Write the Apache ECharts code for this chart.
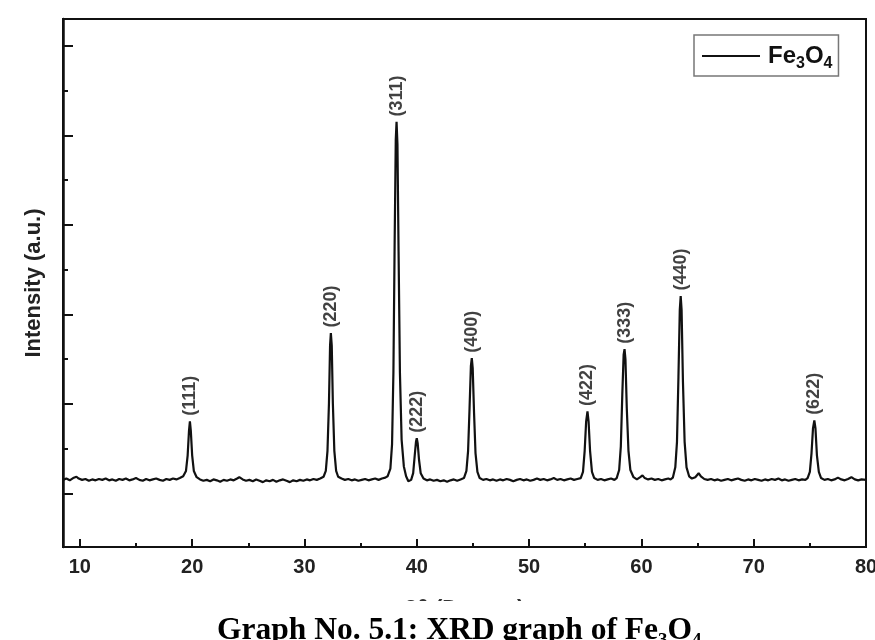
<!DOCTYPE html>
<html>
<head>
<meta charset="utf-8">
<script src="https://cdn.jsdelivr.net/npm/echarts@6/dist/echarts.min.js"></script>
<style>
  html, body { margin: 0; padding: 0; background: #fff; }
  #chart { width: 875px; height: 640px; }
</style>
</head>
<body>
<div id="chart"></div>
<script>
// XRD pattern: [2θ, intensity (a.u.)]
const pattern = [
  [8.5, 30], [8.8, 33], [9.1, 29], [9.4, 34], [9.7, 37], [9.9, 33], [10.2, 30], [10.5, 32],
  [10.8, 28], [11.1, 31], [11.4, 29], [11.7, 32], [12.0, 30], [12.3, 33], [12.6, 29], [12.9, 31],
  [13.2, 28], [13.5, 32], [13.8, 30], [14.1, 33], [14.4, 29], [14.7, 31], [15.0, 34], [15.3, 30],
  [15.6, 28], [15.9, 32], [16.2, 29], [16.5, 31], [16.8, 33], [17.1, 30], [17.4, 28], [17.7, 32],
  [18.0, 30], [18.3, 33], [18.6, 31], [18.9, 34], [19.2, 38],
  // (111)
  [19.45, 50], [19.6, 85], [19.72, 140], [19.8, 161], [19.88, 140], [20.0, 85], [20.15, 50], [20.4, 36],
  [20.7, 31], [21.0, 28], [21.3, 30], [21.6, 27], [21.9, 31], [22.2, 29], [22.5, 26], [22.8, 30],
  [23.1, 28], [23.4, 31], [23.7, 29], [24.0, 33], [24.2, 36], [24.5, 31], [24.8, 28], [25.1, 30],
  [25.4, 27], [25.7, 31], [26.0, 28], [26.3, 25], [26.6, 29], [26.9, 27], [27.2, 30], [27.5, 26],
  [27.8, 29], [28.1, 31], [28.4, 28], [28.7, 25], [29.0, 29], [29.3, 27], [29.6, 30], [29.9, 28],
  [30.2, 31], [30.5, 29], [30.8, 32], [31.1, 30], [31.4, 33], [31.7, 37],
  // (220)
  [31.9, 50], [32.05, 95], [32.18, 200], [32.28, 330], [32.35, 358], [32.43, 330], [32.53, 200],
  [32.66, 95], [32.82, 50], [33.0, 37],
  [33.3, 33], [33.6, 30], [33.9, 32], [34.2, 29], [34.5, 31], [34.8, 28], [35.1, 30], [35.4, 32],
  [35.7, 29], [36.0, 31], [36.3, 33], [36.6, 30], [36.9, 33], [37.2, 35], [37.4, 38],
  // (311) + (222)
  [37.65, 55], [37.8, 110], [37.92, 270], [38.03, 560], [38.13, 790], [38.2, 830], [38.28, 780],
  [38.38, 540], [38.5, 270], [38.65, 120], [38.85, 60], [39.05, 38], [39.25, 27], [39.5, 30],
  [39.68, 45], [39.82, 85], [39.93, 115], [40.0, 123], [40.08, 112], [40.2, 75], [40.35, 45], [40.6, 33],
  [40.9, 29], [41.2, 31], [41.5, 28], [41.8, 30], [42.1, 27], [42.4, 29], [42.7, 26], [43.0, 29],
  [43.3, 31], [43.6, 28], [43.9, 31], [44.2, 34],
  // (400)
  [44.42, 50], [44.57, 95], [44.7, 190], [44.82, 285], [44.9, 302], [44.98, 280], [45.1, 180],
  [45.23, 90], [45.4, 48], [45.6, 34],
  [45.9, 30], [46.2, 32], [46.5, 29], [46.8, 31], [47.1, 28], [47.4, 31], [47.7, 29], [48.0, 32],
  [48.3, 30], [48.6, 27], [48.9, 30], [49.2, 32], [49.5, 29], [49.8, 31], [50.1, 28], [50.4, 30],
  [50.7, 33], [51.0, 30], [51.3, 32], [51.6, 29], [51.9, 31], [52.2, 34], [52.5, 30], [52.8, 32],
  [53.1, 29], [53.4, 31], [53.7, 33], [54.0, 30], [54.3, 32], [54.6, 34],
  // (422)
  [54.8, 48], [54.95, 95], [55.08, 160], [55.2, 183], [55.3, 160], [55.43, 95], [55.6, 48], [55.8, 34],
  [56.1, 30], [56.4, 32], [56.7, 29], [57.0, 31], [57.3, 33], [57.6, 30], [57.8, 34],
  // (333)
  [58.02, 52], [58.17, 105], [58.3, 220], [58.42, 310], [58.5, 322], [58.58, 300], [58.7, 190],
  [58.85, 95], [59.02, 52], [59.3, 36],
  [59.6, 31], [59.9, 36], [60.1, 40], [60.3, 34], [60.6, 31], [60.9, 33], [61.2, 30], [61.5, 32],
  [61.8, 29], [62.1, 31], [62.4, 33], [62.6, 31], [62.8, 35],
  // (440)
  [63.02, 58], [63.17, 115], [63.3, 260], [63.42, 410], [63.5, 441], [63.58, 410], [63.7, 250],
  [63.85, 115], [64.02, 58], [64.25, 38],
  [64.5, 33], [64.8, 36], [65.1, 45], [65.3, 38], [65.6, 32], [65.9, 30], [66.2, 32], [66.5, 29],
  [66.8, 31], [67.1, 28], [67.4, 30], [67.7, 32], [68.0, 29], [68.3, 31], [68.6, 33], [68.9, 30],
  [69.2, 28], [69.5, 31], [69.8, 29], [70.1, 32], [70.4, 30], [70.7, 28], [71.0, 31], [71.3, 29],
  [71.6, 32], [71.9, 30], [72.2, 33], [72.5, 29], [72.8, 31], [73.1, 28], [73.4, 30], [73.7, 32],
  [74.0, 29], [74.3, 31], [74.6, 30], [74.8, 34],
  // (622)
  [75.0, 48], [75.15, 90], [75.28, 145], [75.4, 163], [75.5, 145], [75.63, 85], [75.8, 48], [76.0, 34],
  [76.3, 30], [76.6, 32], [76.9, 29], [77.2, 31], [77.5, 35], [77.8, 31], [78.1, 29], [78.4, 32],
  [78.7, 36], [79.0, 31], [79.3, 29], [79.6, 31], [80.0, 30]
];

// peak labels
const peakHkl = ['(111)', '(220)', '(311)', '(222)', '(400)', '(422)', '(333)', '(440)', '(622)'];
const peakAngle = [19.8, 32.35, 38.2, 40.0, 44.9, 55.2, 58.5, 63.5, 75.4];
const peakTop = [161, 358, 830, 123, 302, 183, 322, 441, 163];

// ticks
const xMajor = [10, 20, 30, 40, 50, 60, 70, 80];
const xMinor = [15, 25, 35, 45, 55, 65, 75];
const yMajor = [0, 200, 400, 600, 800, 1000];
const yMinor = [100, 300, 500, 700, 900];

const chart = echarts.init(document.getElementById('chart'));

const baseX = {
  type: 'value',
  min: 8.5,
  max: 80,
  position: 'bottom',
  splitLine: { show: false }
};
const baseY = {
  type: 'value',
  min: -120,
  max: 1060,
  position: 'left',
  splitLine: { show: false }
};

chart.setOption({
  animation: false,
  backgroundColor: '#fff',
  grid: {
    left: 63, top: 19, right: 9, bottom: 93,
    show: true,
    borderColor: '#111',
    borderWidth: 2,
    outerBoundsMode: 'none'
  },
  legend: {
    data: ['Fe3O4'],
    left: 694,
    top: 35,
    padding: [5, 6, 4, 8],
    borderColor: '#777',
    borderWidth: 1.5,
    itemWidth: 58,
    itemHeight: 14,
    icon: 'path://M0,6 L58,6 L58,8 L0,8 Z',
    itemStyle: { color: '#111' },
    formatter: () => 'Fe{sub|3}O{sub|4}',
    textStyle: {
      color: '#111',
      fontFamily: 'Liberation Sans, Arial, sans-serif',
      fontSize: 24,
      fontWeight: 'bold',
      padding: [0, 0, 0, 3],
      rich: {
        sub: {
          fontSize: 16,
          fontWeight: 'bold',
          fontFamily: 'Liberation Sans, Arial, sans-serif',
          color: '#111',
          lineHeight: 16,
          padding: [16, 0, 0, 0]
        }
      }
    }
  },
  xAxis: [
    Object.assign({}, baseX, {
      name: '2θ (Degree)',
      nameLocation: 'middle',
      nameGap: 51,
      nameTextStyle: {
        color: '#333', fontSize: 22, fontWeight: 'bold',
        fontFamily: 'Liberation Sans, Arial, sans-serif', verticalAlign: 'top'
      },
      axisLine: { show: true, onZero: false, lineStyle: { color: '#111', width: 2 } },
      axisTick: { show: true, inside: true, length: 8, customValues: xMajor,
        lineStyle: { color: '#111', width: 2 } },
      axisLabel: {
        customValues: xMajor, margin: 10, color: '#222', fontSize: 20, fontWeight: 'bold',
        fontFamily: 'Liberation Sans, Arial, sans-serif'
      }
    }),
    Object.assign({}, baseX, {
      axisLine: { show: false, onZero: false },
      axisTick: { show: true, inside: true, length: 4, customValues: xMinor,
        lineStyle: { color: '#111', width: 2 } },
      axisLabel: { show: false }
    })
  ],
  yAxis: [
    Object.assign({}, baseY, {
      name: 'Intensity (a.u.)',
      nameLocation: 'middle',
      nameGap: 18,
      nameTextStyle: {
        color: '#222', fontSize: 22, fontWeight: 'bold',
        fontFamily: 'Liberation Sans, Arial, sans-serif'
      },
      axisLine: { show: true, onZero: false, lineStyle: { color: '#111', width: 2.5 } },
      axisTick: { show: true, inside: true, length: 10, customValues: yMajor,
        lineStyle: { color: '#111', width: 2 } },
      axisLabel: { show: false }
    }),
    Object.assign({}, baseY, {
      axisLine: { show: false, onZero: false },
      axisTick: { show: true, inside: true, length: 5, customValues: yMinor,
        lineStyle: { color: '#111', width: 2 } },
      axisLabel: { show: false }
    })
  ],
  series: [
    {
      name: 'Fe3O4',
      type: 'line',
      data: pattern,
      symbol: 'none',
      lineStyle: { color: '#111', width: 2.2 },
      itemStyle: { color: '#111' },
      z: 3
    },
    {
      name: 'hkl',
      type: 'scatter',
      data: peakAngle.map((a, i) => ({ value: [a, peakTop[i]], hkl: peakHkl[i] })),
      symbolSize: 1,
      itemStyle: { color: 'rgba(0,0,0,0)' },
      silent: true,
      label: {
        show: true,
        position: 'top',
        distance: 5,
        rotate: 90,
        align: 'left',
        verticalAlign: 'middle',
        formatter: (p) => p.data.hkl,
        color: '#111',
        fontSize: 18,
        fontWeight: 'bold',
        fontFamily: 'Liberation Sans, Arial, sans-serif'
      }
    }
  ],
  graphic: [
    {
      type: 'rect',
      zlevel: 1,
      z: 100,
      shape: { x: 0, y: 601, width: 875, height: 39 },
      style: { fill: '#fff' }
    },
    {
      type: 'text',
      zlevel: 1,
      z: 101,
      left: 217,
      top: 615,
      style: {
        text: 'Graph No. 5.1: XRD graph of Fe₃O₄',
        fill: '#000',
        font: 'bold 31.5px "Liberation Serif", "Times New Roman", serif'
      }
    }
  ]
});
</script>
</body>
</html>
